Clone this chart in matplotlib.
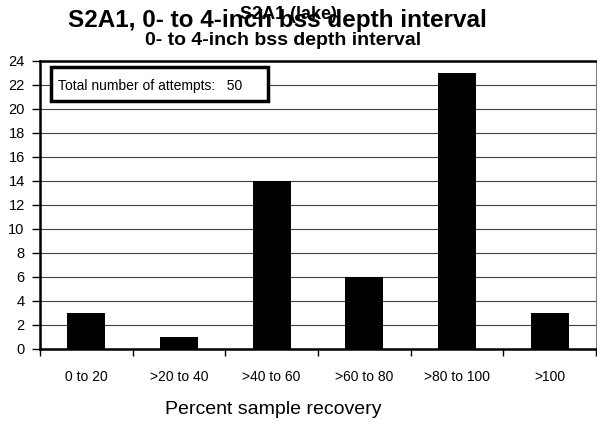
import matplotlib
matplotlib.use("Agg")
import matplotlib.pyplot as plt
import matplotlib.patches as patches
import numpy as np

categories = ["0 to 20", ">20 to 40", ">40 to 60", ">60 to 80", ">80 to 100", ">100"]
counts = [3, 1, 14, 6, 23, 3]
yticks = list(range(0, 25, 2))
title_main = "S2A1, 0- to 4-inch bss depth interval"
title_over = "S2A1 (lake)"
subtitle = "0- to 4-inch bss depth interval"
xlabel = "Percent sample recovery"
box_text = "Total number of attempts:   50"

plt.rcParams['font.family'] = ['Liberation Sans', 'DejaVu Sans']

W, H = 597, 421
fig = plt.figure(figsize=(W / 100, H / 100), dpi=100)

def fx(px):
    return px / W

def fy(py):
    return 1 - py / H

ax = fig.add_axes([fx(40), fy(349), fx(596) - fx(40), fy(61) - fy(349)])

x = np.arange(len(categories))
ax.bar(x, counts, width=0.41, color='black', zorder=3)

ax.set_xlim(-0.5, len(categories) - 0.5)
ax.set_ylim(0, 24)
ax.set_yticks(yticks)
ax.set_yticklabels([str(t) for t in yticks], fontsize=10.5)
ax.tick_params(axis='y', direction='out', length=6, width=1, pad=5, color='black')

ax.set_xticks(x)
ax.set_xticklabels(categories, fontsize=10)
ax.tick_params(axis='x', which='major', length=0, pad=15)
ax.set_xticks(np.arange(-0.5, len(categories), 1.0), minor=True)
ax.tick_params(axis='x', which='minor', direction='out', length=5, width=1, color='black')

ax.yaxis.grid(True, color='#404040', linewidth=0.8, zorder=0)
ax.set_axisbelow(True)

for side in ['left', 'bottom', 'top']:
    ax.spines[side].set_linewidth(1.8)
    ax.spines[side].set_color('black')
ax.spines['right'].set_linewidth(0.8)
ax.spines['right'].set_color('#808080')

# Titles
fig.text(fx(277), fy(27), title_main, ha='center', va='baseline', fontsize=17.5, fontweight='bold')
fig.text(fx(288), fy(19), title_over, ha='center', va='baseline', fontsize=13, fontweight='bold')
fig.text(fx(283.5), fy(45), subtitle, ha='center', va='baseline', fontsize=14, fontweight='bold')

# X label
fig.text(fx(273.5), fy(414), xlabel, ha='center', va='baseline', fontsize=14)

# Text box
rect = patches.Rectangle((fx(51), fy(101)), fx(268) - fx(51), fy(67) - fy(101),
                         transform=fig.transFigure, facecolor='white', edgecolor='black',
                         linewidth=2.5, zorder=10)
fig.add_artist(rect)
fig.text(fx(58), fy(90), box_text, ha='left', va='baseline', fontsize=10, zorder=11)

fig.savefig('out.png', dpi=100)
